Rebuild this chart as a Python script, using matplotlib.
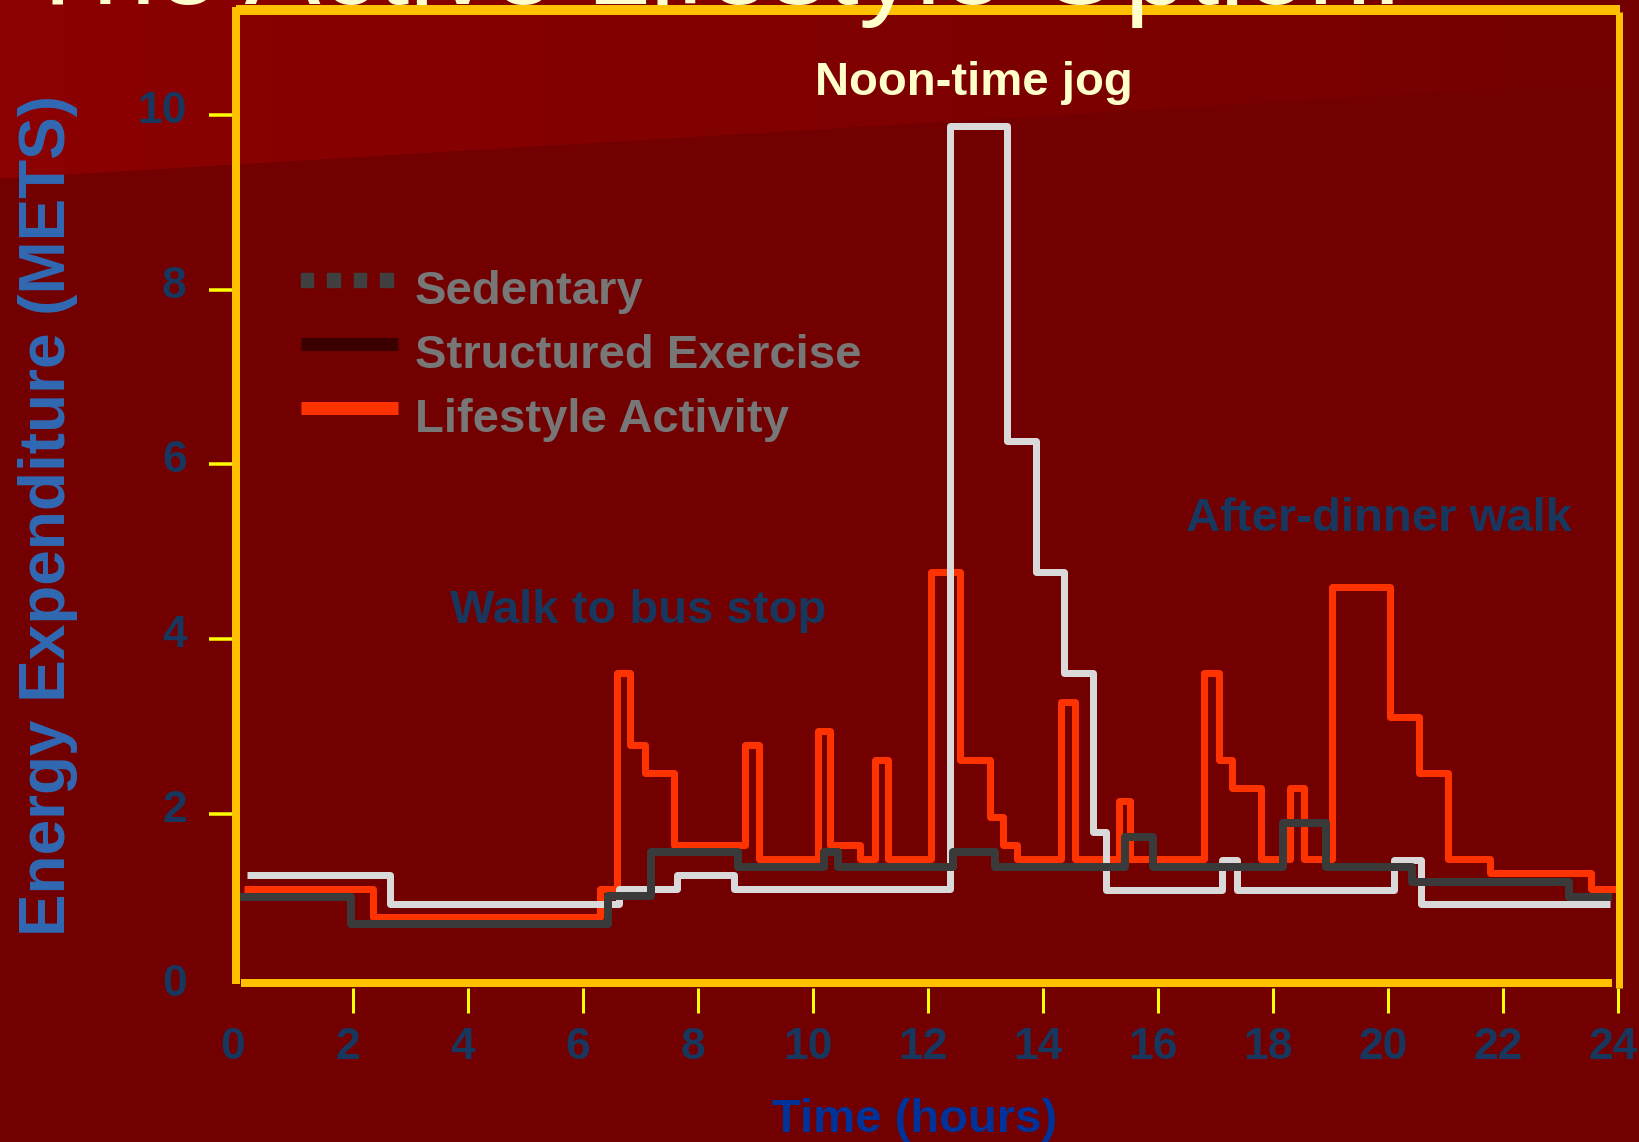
import matplotlib
matplotlib.use('Agg')
import matplotlib.pyplot as plt
import matplotlib.transforms as mtransforms
from matplotlib.lines import Line2D
from matplotlib.patches import Rectangle
import numpy as np

plt.rcParams['font.family'] = ['Liberation Sans', 'DejaVu Sans']

# energy expenditure over a day, as step profiles (hour edges, METs per step)
sedentary_edges = [0, 1.96, 6.43, 7.19, 8.70, 10.19, 10.43, 12.44, 13.17, 15.42,
                   15.91, 18.17, 18.92, 20.41, 23.15, 23.89]
sedentary_mets = [1.05, 0.73, 1.06, 1.56, 1.39, 1.56, 1.39, 1.56, 1.39, 1.73,
                  1.39, 1.89, 1.39, 1.22, 1.05]

structured_edges = [0.16, 2.64, 6.63, 7.64, 8.63, 12.39, 13.37, 13.88, 14.37, 14.87,
                    15.10, 17.12, 17.37, 20.11, 20.57, 23.86]
structured_mets = [1.30, 0.965, 1.14, 1.30, 1.14, 9.88, 6.27, 4.77, 3.61, 1.79,
                   1.13, 1.47, 1.13, 1.47, 0.97]

lifestyle_edges = [0.10, 2.34, 6.30, 6.59, 6.82, 7.07, 7.58, 8.82, 9.06, 10.09,
                   10.30, 10.81, 11.08, 11.30, 12.06, 12.55, 13.07, 13.30, 13.54, 14.32,
                   14.55, 15.33, 15.52, 16.80, 17.06, 17.29, 17.79, 18.30, 18.54, 19.03,
                   20.03, 20.54, 21.05, 21.78, 23.53, 24.0]
lifestyle_mets = [1.14, 0.82, 1.14, 3.61, 2.79, 2.47, 1.64, 2.79, 1.48, 2.95,
                  1.64, 1.48, 2.61, 1.48, 4.77, 2.61, 1.96, 1.64, 1.48, 3.28,
                  1.48, 2.14, 1.48, 3.61, 2.61, 2.29, 1.48, 2.29, 1.48, 4.60,
                  3.11, 2.46, 1.48, 1.32, 1.14]

hour_ticks = list(range(0, 25, 2))
met_ticks = list(range(0, 11, 2))
legend_labels = ['Sedentary', 'Structured Exercise', 'Lifestyle Activity']

W, H, DPI = 1639, 1142, 100
PT = 72 / DPI  # points per pixel


def fx(x):
    return x / W


def fy(y):
    return 1 - y / H


fig = plt.figure(figsize=(W / DPI, H / DPI), dpi=DPI)

# slide background: dark red with a lighter band across the top left
bg = fig.add_axes([0, 0, 1, 1], zorder=-1)
cols = np.arange(W)[None, :]
rows = np.arange(H)[:, None]
base = np.array([114, 0, 0]) / 255
band_l = np.array([140, 0, 0]) / 255
band_r = np.array([116, 0, 0]) / 255
t = (cols / W)[..., None]
band = band_l * (1 - t) + band_r * t
img = np.empty((H, W, 3))
img[:] = base
img = np.where((rows < 178 - 0.06 * cols)[..., None], band, img)
bg.imshow(img, extent=[0, W, H, 0], aspect='auto', interpolation='nearest')
bg.set_xlim(0, W)
bg.set_ylim(H, 0)
bg.axis('off')

# title, mostly off the top of the slide
fig.text(fx(713), fy(4), 'The Active Lifestyle Option:', ha='center', va='baseline',
         fontsize=82, color='#FFFFCC')

# main chart area
y0_px, unit_px = 988.2, 87.3
ax = fig.add_axes([fx(238), fy(y0_px), (1618 - 238) / W, (y0_px - 9) / H])
ax.set_xlim(0, 24)
ax.set_ylim(0, (y0_px - 9) / unit_px)
ax.patch.set_alpha(0)
for s in ax.spines.values():
    s.set_visible(False)

ax.stairs(lifestyle_mets, lifestyle_edges, baseline=None, fill=False,
          edgecolor='#FF3300', linewidth=7 * PT, joinstyle='round', capstyle='butt', zorder=2)
ax.stairs(structured_mets, structured_edges, baseline=None, fill=False,
          edgecolor='#D9D9D9', linewidth=7 * PT, joinstyle='round', capstyle='butt', zorder=3)
ax.stairs(sedentary_mets, sedentary_edges, baseline=None, fill=False,
          edgecolor='#3A3A3A', linewidth=8 * PT, joinstyle='round', capstyle='butt', zorder=4)

ax.set_xticks(hour_ticks)
ax.set_xticklabels([str(h) for h in hour_ticks])
ax.set_yticks(met_ticks)
ax.set_yticklabels([str(m) for m in met_ticks])
ax.tick_params(axis='x', direction='out', length=25 * PT, width=3 * PT, color='#FFFF00',
               pad=10, labelsize=32, labelcolor='#17375E')
ax.tick_params(axis='y', direction='out', length=29 * PT, width=3.5 * PT, color='#FFFF00',
               pad=16, labelsize=32, labelcolor='#17375E')
for lab in ax.get_xticklabels() + ax.get_yticklabels():
    lab.set_fontweight('bold')
ax.xaxis.get_major_ticks()[0].tick1line.set_visible(False)
ax.yaxis.get_major_ticks()[0].tick1line.set_visible(False)
# labels sit a little left of / above their ticks
shift_y = mtransforms.ScaledTranslation(0, 0.08, fig.dpi_scale_trans)
for lab in ax.get_yticklabels():
    lab.set_transform(lab.get_transform() + shift_y)
shift_x = mtransforms.ScaledTranslation(-0.05, 0, fig.dpi_scale_trans)
for lab in ax.get_xticklabels():
    lab.set_transform(lab.get_transform() + shift_x)

ax.set_xlabel('Time (hours)', fontsize=34, fontweight='bold', color='#003399')
ax.xaxis.set_label_coords((915 - 238) / 1380, (y0_px - 1098) / (y0_px - 9))
ax.set_ylabel('Energy Expenditure (METS)', fontsize=46, fontweight='bold',
              color='#3169B4', va='center')
ax.yaxis.set_label_coords((48 - 238) / 1380, (y0_px - 515) / (y0_px - 9))

# yellow frame round the plot
frame = '#FFC000'
fig.add_artist(Line2D([fx(236), fx(236)], [fy(7), fy(984)], color=frame, lw=8 * PT, solid_capstyle='butt'))
fig.add_artist(Line2D([fx(236), fx(1620)], [fy(9.5), fy(9.5)], color=frame, lw=10 * PT, solid_capstyle='butt'))
fig.add_artist(Line2D([fx(1619), fx(1619)], [fy(12), fy(988)], color=frame, lw=7 * PT, solid_capstyle='butt'))
fig.add_artist(Line2D([fx(241), fx(1612)], [fy(983), fy(983)], color=frame, lw=8 * PT, solid_capstyle='butt'))

# legend
legend_colors = ['#404040', '#3A0000', '#FF3300']
for i, (label, color) in enumerate(zip(legend_labels, legend_colors)):
    my = 280 + 64 * i
    if i == 0:
        for sx in np.arange(300.6, 394, 26.6):
            fig.add_artist(Rectangle((fx(sx), fy(my + 6.5)), 12.5 / W, 13 / H,
                                     transform=fig.transFigure, color=color))
    else:
        fig.add_artist(Line2D([fx(300.6), fx(398)], [fy(my), fy(my)], color=color,
                              lw=13 * PT, solid_capstyle='butt'))
    fig.text(fx(415), fy(my + 24), label, fontsize=34, fontweight='bold',
             color='#777777', va='baseline')

# notes on the peaks
fig.text(fx(974), fy(95), 'Noon-time jog', ha='center', va='baseline', fontsize=34,
         fontweight='bold', color='#FFFFCC')
fig.text(fx(638), fy(623), 'Walk to bus stop', ha='center', va='baseline', fontsize=34,
         fontweight='bold', color='#17375E')
fig.text(fx(1379), fy(531), 'After-dinner walk', ha='center', va='baseline', fontsize=34,
         fontweight='bold', color='#17375E')

fig.savefig('out.png', dpi=DPI)
